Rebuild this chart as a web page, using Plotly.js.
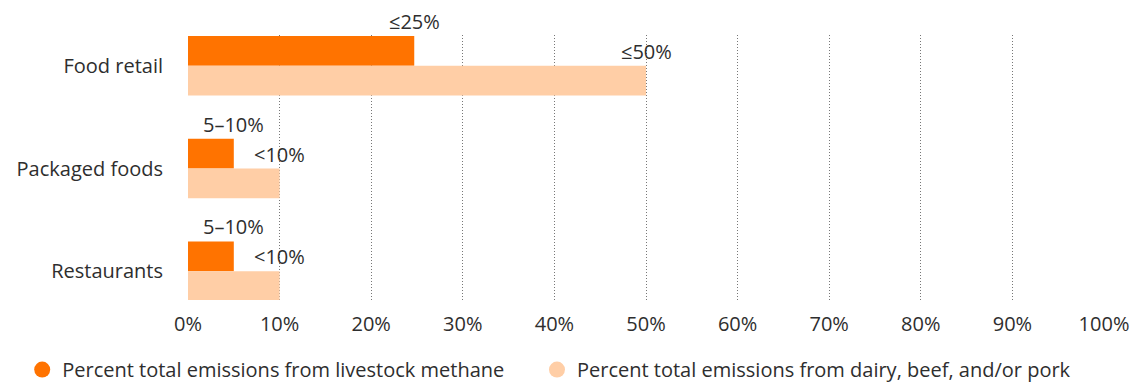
<!DOCTYPE html>
<html><head><meta charset="utf-8">
<script src="https://cdn.plot.ly/plotly-3.0.1.min.js"></script>
<style>html,body{margin:0;padding:0;background:#fff;}#chart{width:1133px;height:382px;}</style>
</head><body><div id="chart"></div>
<script>
const categories = ["Food retail", "Packaged foods", "Restaurants"];
const methaneValues = [24.7, 5, 5];
const methaneLabels = ["≤25%", "5–10%", "5–10%"];
const dairyValues = [50, 10, 10];
const dairyLabels = ["≤50%", "<10%", "<10%"];
const seriesNames = ["Percent total emissions from livestock methane", "Percent total emissions from dairy, beef, and/or pork"];
const xTickVals = [0,10,20,30,40,50,60,70,80,90,100];
const xTickText = ["0%","10%","20%","30%","40%","50%","60%","70%","80%","90%","100%"];

const ORANGE = "#ff7300", PEACH = "#ffcea6";
const FONT = "'Open Sans', 'Liberation Sans', sans-serif";
const TXT = "#2e2e2e";
const FS = 20;

const traces = [
  {type:"bar", orientation:"h", y:categories, x:methaneValues, marker:{color:ORANGE}, showlegend:false, hoverinfo:"none"},
  {type:"bar", orientation:"h", y:categories, x:dairyValues, marker:{color:PEACH}, showlegend:false, hoverinfo:"none"},
  {type:"scatter", mode:"markers", x:[null], y:[null], name:seriesNames[0], legend:"legend", marker:{color:ORANGE, size:23, symbol:"circle"}},
  {type:"scatter", mode:"markers", x:[null], y:[null], name:seriesNames[1], legend:"legend2", marker:{color:PEACH, size:23, symbol:"circle"}}
];

const barHalf = 0.29;
const annotations = [];
categories.forEach((c, i) => {
  annotations.push({x:methaneValues[i], y:i - barHalf, xref:"x", yref:"y", text:methaneLabels[i], showarrow:false, xanchor:"center", yanchor:"bottom", yshift:-1, font:{family:FONT, size:FS, color:TXT}});
  annotations.push({x:dairyValues[i], y:i, xref:"x", yref:"y", text:dairyLabels[i], showarrow:false, xanchor:"center", yanchor:"bottom", yshift:-1, font:{family:FONT, size:FS, color:TXT}});
});

const legendBase = {orientation:"h", xanchor:"left", y:-0.189, yanchor:"top", font:{size:FS, color:TXT}, itemwidth:30, bgcolor:"rgba(0,0,0,0)"};

const layout = {
  width:1133, height:382,
  margin:{l:188, r:29, t:35, b:82, autoexpand:false},
  paper_bgcolor:"#fff", plot_bgcolor:"#fff",
  barmode:"group", bargap:0.42, bargroupgap:0,
  font:{family:FONT, size:FS, color:TXT},
  xaxis:{range:[0,100], tickvals:xTickVals, ticktext:xTickText, showgrid:true, gridcolor:"#777", griddash:"1px,2px", gridwidth:1, zeroline:false, showline:false, ticks:"", ticklabelstandoff:10, tickfont:{size:FS, color:TXT}, fixedrange:true, automargin:false},
  yaxis:{type:"category", range:[2.28, -0.3], showgrid:false, zeroline:false, showline:false, ticks:"", ticklabelstandoff:24, tickfont:{size:FS, color:TXT}, fixedrange:true, automargin:false},
  showlegend:true,
  legend:Object.assign({}, legendBase, {x:-0.181}),
  legend2:Object.assign({}, legendBase, {x:0.381}),
  annotations:annotations
};

Plotly.newPlot("chart", traces, layout, {displayModeBar:false, staticPlot:true});
</script></body></html>
